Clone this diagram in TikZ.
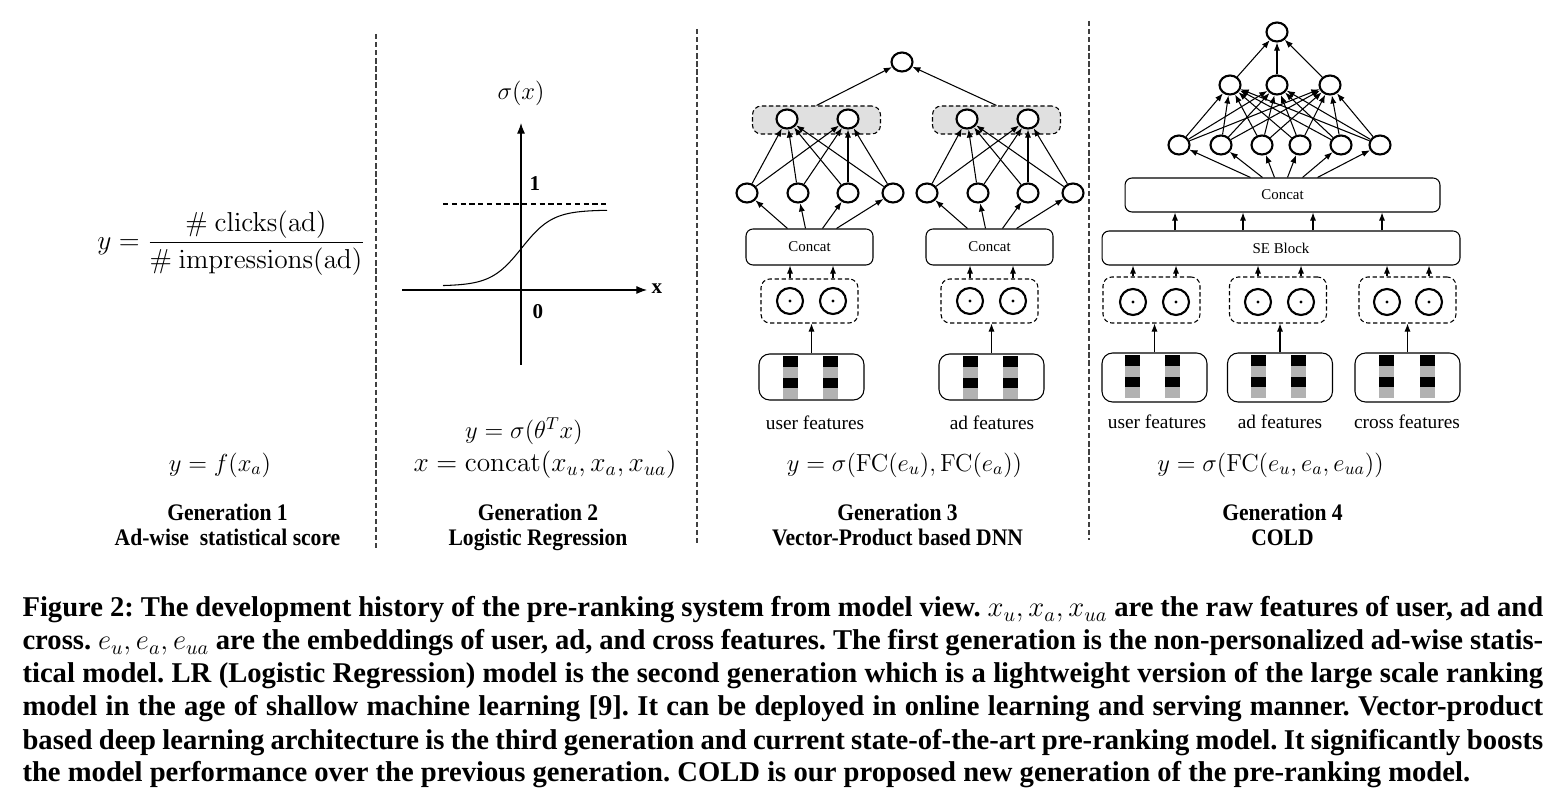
\RequirePackage{fix-cm}
\documentclass[tikz,border=0pt]{standalone}
\usepackage[no-math]{fontspec}
\setmainfont{Liberation Serif}
\newfontfamily\genfont[FakeStretch=0.91]{Liberation Serif}
\usepackage{amsmath}
\usetikzlibrary{arrows.meta,shapes.geometric}
\tikzset{every picture/.style={line width=0.6pt}}
\tikzset{
  neuron/.style={ellipse,draw,fill=white,line width=1.2pt,minimum width=0.42cm,minimum height=0.38cm,inner sep=0pt},
  prodnode/.style={circle,draw,line width=1.2pt,minimum size=0.52cm,inner sep=0pt,
    path picture={\fill (path picture bounding box.center) circle (0.9pt);}},
  layerbox/.style={draw,rounded corners=4pt,inner sep=0pt,font=\fontsize{8.5}{10}\selectfont},
  prodbox/.style={draw,dash pattern=on 2.5pt off 1.5pt,rounded corners=5pt},
  greybox/.style={draw,dash pattern=on 2.5pt off 1.5pt,fill=black!12,rounded corners=5pt},
  featbox/.style={draw,rounded corners=6pt},
  fwd/.style={-{Latex[length=4.6pt,width=3.5pt]}},
  axisarr/.style={-{Latex[length=6pt,width=4.5pt]}},
  sep/.style={draw=black!75,dash pattern=on 3pt off 1.6pt},
  mathlbl/.style={font=\fontsize{14}{17}\selectfont,inner sep=0pt},
  bigmath/.style={font=\fontsize{15.6}{19}\selectfont,inner sep=0pt},
  featlbl/.style={font=\fontsize{11}{13}\selectfont,inner sep=0pt},
  axlbl/.style={font=\bfseries\fontsize{12}{14}\selectfont,inner sep=0pt},
  genlbl/.style={font=\genfont\bfseries\fontsize{13.5}{14.2}\selectfont,align=center,inner sep=0pt,text depth=0pt},
  capline/.style={anchor=base west,inner sep=0pt,font=\bfseries\fontsize{16.3}{18}\selectfont},
}
\newcommand{\embbar}[2]{%
  \fill (#1,#2) rectangle ++(15,10.8);
  \fill[black!30] (#1,#2+10.8) rectangle ++(15,10.8);
  \fill (#1,#2+21.6) rectangle ++(15,10.8);
  \fill[black!30] (#1,#2+32.4) rectangle ++(15,10.8);}
\begin{document}
\frenchspacing
\begin{tikzpicture}[x=0.02cm,y=-0.02cm]
\useasboundingbox (0,0) rectangle (1556,810);

% separators
\draw[sep] (376,34) -- (376,548);
\draw[sep] (697,29) -- (697,545);
\draw[sep] (1089,21) -- (1089,540);

% generation 1
\node[bigmath] (ctr) at (231,243) {$y=\dfrac{\#\ \mathrm{clicks(ad)}}{\#\ \mathrm{impressions(ad)}}$};
\node[mathlbl] (f1) at (220,465) {$y=f(x_a)$};
\node[genlbl] (gen1) at (227.5,524.5) {Generation 1\\Ad-wise\ \ statistical score};

% generation 2
\draw[axisarr] (521,365) -- (521,123);
\draw[axisarr] (402,290) -- (647,290);
\draw[dash pattern=on 3pt off 2pt] (443,204) -- (607,204);
\draw plot[domain=443:607,samples=80,smooth] (\x,{286-76/(1+exp(-0.065*(\x-521.7)))});
\node[mathlbl] (sig) at (521,93) {$\sigma(x)$};
\node[axlbl] (one) at (535,184) {1};
\node[axlbl] (zero) at (538,312) {0};
\node[axlbl] (xax) at (657,289) {x};
\node[mathlbl] (f2a) at (524,431) {$y=\sigma(\theta^Tx)$};
\node[bigmath] (f2b) at (545,465) {$x=\mathrm{concat}(x_u,x_a,x_{ua})$};
\node[genlbl] (gen2) at (538,524.5) {Generation 2\\Logistic Regression};

% generation 3
\node[neuron] (top3) at (902,62) {};
\foreach \s/\dx in {a/0,b/180}{
  \node[greybox,minimum width=2.56cm,minimum height=0.56cm] (g3\s) at (816.5+\dx,120) {};
  \node[neuron] (h2\s1) at (787+\dx,119) {};
  \node[neuron] (h2\s2) at (848+\dx,119) {};
  \foreach \i/\x in {1/747,2/798,3/848,4/893}
    \node[neuron] (h3\s\i) at (\x+\dx,193) {};
  \node[layerbox,minimum width=2.54cm,minimum height=0.72cm] (c3\s) at (809.5+\dx,247) {Concat};
  \node[prodbox,minimum width=1.94cm,minimum height=0.88cm] (pb3\s) at (809.5+\dx,301) {};
  \node[prodnode] (p3\s1) at (790+\dx,301) {};
  \node[prodnode] (p3\s2) at (833+\dx,301) {};
  \node[featbox,minimum width=2.1cm,minimum height=0.92cm] (fb3\s) at (811.5+\dx,377) {};
  \embbar{783+\dx}{356}
  \embbar{823+\dx}{356}
  \draw[fwd] (g3\s.north) -- (top3);
  \foreach \i in {1,...,4}
    \foreach \j in {1,2}
      \draw[fwd] (h3\s\i) -- (h2\s\j);
  \foreach \i/\d in {1/-22,2/-4,3/13,4/27}
    \draw[fwd] ([xshift=\d*0.02cm]c3\s.north) -- (h3\s\i);
  \foreach \j in {1,2}
    \draw[fwd] (p3\s\j |- pb3\s.north) -- (p3\s\j |- c3\s.south);
  \draw[fwd] (fb3\s.north) -- (fb3\s.north |- pb3\s.south);
}
\node[featlbl] (lu3) at (815,423) {user features};
\node[featlbl] (la3) at (992,423) {ad features};
\node[mathlbl] (f3) at (904.5,465) {$y=\sigma(\mathrm{FC}(e_u),\mathrm{FC}(e_a))$};
\node[genlbl] (gen3) at (897.5,524.5) {Generation 3\\Vector-Product based DNN};

% generation 4
\node[neuron] (top4) at (1277,32) {};
\foreach \j/\x in {1/1230,2/1277,3/1330}
  \node[neuron] (h4b\j) at (\x,85) {};
\foreach \i/\x in {1/1179,2/1221,3/1262,4/1300,5/1341,6/1380}
  \node[neuron] (h4a\i) at (\x,145) {};
\node[layerbox,minimum width=6.3cm,minimum height=0.68cm] (cc4) at (1282.5,195) {Concat};
\node[layerbox,minimum width=7.16cm,minimum height=0.68cm] (se4) at (1281,248) {SE Block};
\foreach \s/\bx/\pa/\pb/\fx/\ba/\bb in {u/1151.5/1133/1176/1154.5/1125/1165,a/1278/1258/1301/1280/1251/1291,c/1407.5/1387/1429/1407.5/1379/1420}{
  \node[prodbox,minimum width=1.94cm,minimum height=0.92cm] (pb4\s) at (\bx,300) {};
  \node[prodnode] (p4\s1) at (\pa,302) {};
  \node[prodnode] (p4\s2) at (\pb,302) {};
  \node[featbox,minimum width=2.1cm,minimum height=0.98cm] (fb4\s) at (\fx,377.5) {};
  \embbar{\ba}{355}
  \embbar{\bb}{355}
  \foreach \j in {1,2}
    \draw[fwd] (p4\s\j |- pb4\s.north) -- (p4\s\j |- se4.south);
  \draw[fwd] (fb4\s.north) -- (fb4\s.north |- pb4\s.south);
}
\foreach \i in {1,...,6}
  \foreach \j in {1,2,3}
    \draw[fwd] (h4a\i) -- (h4b\j);
\foreach \j in {1,2,3}
  \draw[fwd] (h4b\j) -- (top4);
\foreach \i/\d in {1/-32,2/-20,3/-8,4/5,5/20,6/35}
  \draw[fwd] ([xshift=\d*0.02cm]cc4.north) -- (h4a\i);
\foreach \x in {1175,1243,1313,1382}
  \draw[fwd] (\x,0 |- se4.north) -- (\x,0 |- cc4.south);
\node[featlbl] (lu4) at (1157,422) {user features};
\node[featlbl] (la4) at (1280,422) {ad features};
\node[featlbl] (lc4) at (1407,422) {cross features};
\node[mathlbl] (f4) at (1270.5,465) {$y=\sigma(\mathrm{FC}(e_u,e_a,e_{ua}))$};
\node[genlbl] (gen4) at (1282.5,524.5) {Generation 4\\COLD};

% caption
\node[capline] (cap1) at (22,617) {\makebox[30.42cm][s]{Figure 2: The development history of the pre-ranking system from model view. $x_u, x_a, x_{ua}$ are the raw features of user, ad and}};
\node[capline] (cap2) at (22,650) {\makebox[30.42cm][s]{cross. $e_u, e_a, e_{ua}$ are the embeddings of user, ad, and cross features. The first generation is the non-personalized ad-wise statis-}};
\node[capline] (cap3) at (22,683) {\makebox[30.42cm][s]{tical model. LR (Logistic Regression) model is the second generation which is a lightweight version of the large scale ranking}};
\node[capline] (cap4) at (22,716) {\makebox[30.42cm][s]{model in the age of shallow machine learning [9]. It can be deployed in online learning and serving manner. Vector-product}};
\node[capline] (cap5) at (22,749) {\makebox[30.42cm][s]{based deep learning architecture is the third generation and current state-of-the-art pre-ranking model. It significantly boosts}};
\node[capline] (cap6) at (22,782) {the model performance over the previous generation. COLD is our proposed new generation of the pre-ranking model.};
\end{tikzpicture}
\end{document}
